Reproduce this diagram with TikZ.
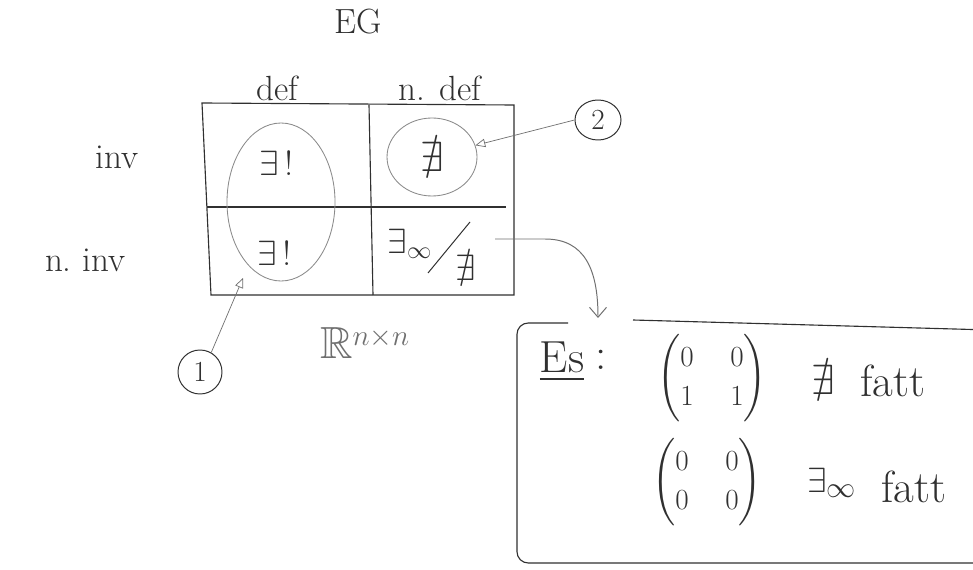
\documentclass[tikz,border=0pt]{standalone}
\usepackage{amsmath,amssymb}
\usetikzlibrary{arrows.meta,shapes.geometric}
\definecolor{ink}{HTML}{303030}
\definecolor{pencil}{HTML}{8A8A8A}
\definecolor{thin}{HTML}{707070}
\tikzset{
  lbl/.style={font=\Huge, text=ink, inner sep=0pt},
  biglbl/.style={font=\fontsize{32}{38}\selectfont, text=ink, inner sep=0pt},
  sym/.style={font=\fontsize{30}{36}\selectfont, text=ink, inner sep=0pt},
  gridline/.style={draw=ink, line width=0.8pt},
  blob/.style={draw=pencil, line width=0.6pt, ellipse, inner sep=0pt},
  numcirc/.style={draw=ink, line width=0.7pt, ellipse, font=\huge, text=ink, inner sep=0pt},
  pointer/.style={draw=thin, line width=0.5pt, -{Triangle[open,length=7pt,width=6pt]}},
  curvedlink/.style={draw=thin, line width=0.7pt, -{Straight Barb[length=7pt,width=12pt]}},
  matnode/.style={font=\huge, text=ink, inner sep=0pt},
}
\begin{document}
\begin{tikzpicture}[x=0.025cm,y=-0.025cm]
\useasboundingbox (0,0) rectangle (973,570);
\fill[white] (0,0) rectangle (973,570);

% title
\node[lbl] (eg) at (358,22) {EG};

% column and row headings
\node[lbl] (cdef) at (277,88) {def};
\node[lbl] (cndef) at (440,88) {n. def};
\node[lbl] (rinv) at (117,157) {inv};
\node[lbl] (rninv) at (85,260) {n.\ inv};

% table
\draw[gridline] (202,103) -- (514,105) -- (514,295) -- (211,295) -- cycle;
\draw[gridline] (369,105) -- (373,295);
\draw[gridline] (207,207) -- (506,207);

% cell contents
\node[sym] (c11) at (276,163) {$\exists\,!$};
\node[sym] (c21) at (274,253) {$\exists\,!$};
\node[sym] (c12) at (432,157) {$\nexists$};
\node[sym, font=\fontsize{26}{30}\selectfont] (c22a) at (410,244) {$\exists_{\infty}$};
\draw[ink, line width=0.7pt] (428,273) -- (470,222);
\node[sym, font=\fontsize{26}{30}\selectfont] (c22b) at (466,268) {$\nexists$};
\coordinate (c22out) at (495,239);

% encircled groups
\node[blob, minimum width=108*0.025cm, minimum height=158*0.025cm] (e1) at (281,202) {};
\node[blob, minimum width=90*0.025cm, minimum height=78*0.025cm] (e2) at (432,157) {};

% numbered callouts
\node[numcirc, minimum width=44*0.025cm, minimum height=44*0.025cm] (n1) at (200,372) {1};
\node[numcirc, minimum width=46*0.025cm, minimum height=40*0.025cm] (n2) at (598,120) {2};
\draw[pointer] (n1.60) -- (243,278);
\draw[pointer] (n2.west) -- (e2.15);

% R^{n x n}
\node[biglbl, text=pencil!70!ink] (rnn) at (365,343) {$\mathbb{R}^{n\times n}$};

% example box
\coordinate (boxin) at (598,318);
\draw[curvedlink] (c22out) -- (545,239) .. controls (585,239) and (598,270) .. (boxin);
\draw[ink, line width=0.8pt, rounded corners=8pt] (568,323) -- (517,323) -- (517,563) -- (990,563);
\draw[ink, line width=0.8pt] (633,320) -- (990,330);

\node[biglbl] (es) at (562,362) {\underline{Es}};
\node[biglbl] (colon) at (601,360) {:};
\node[matnode] (m1) at (712,378)
  {$\renewcommand{\arraystretch}{1.1}\setlength{\arraycolsep}{13pt}\begin{pmatrix}0&0\\1&1\end{pmatrix}$};
\node[sym] (m1s) at (823,380) {$\nexists$};
\node[biglbl] (m1t) at (893,381) {fatt};
\node[matnode] (m2) at (707,482)
  {$\renewcommand{\arraystretch}{1.1}\setlength{\arraycolsep}{13pt}\begin{pmatrix}0&0\\0&0\end{pmatrix}$};
\node[sym] (m2s) at (832,483) {$\exists_{\infty}$};
\node[biglbl] (m2t) at (914,487) {fatt};
\end{tikzpicture}
\end{document}
